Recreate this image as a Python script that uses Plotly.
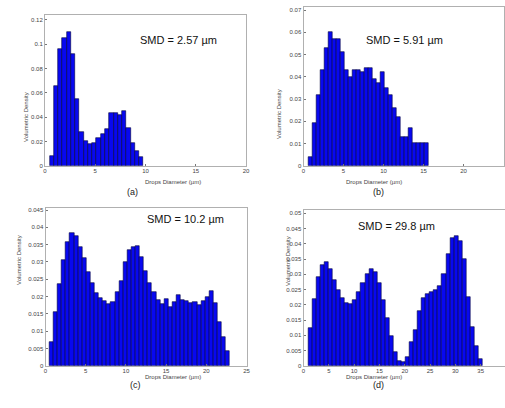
import plotly.graph_objects as go

# ---------------- data ----------------
# Panel (a): SMD = 2.57 um
a_bin_first_center = 0.66
a_bin_width = 0.425
a_density = [0.008, 0.066, 0.096, 0.105, 0.110, 0.092, 0.055, 0.028, 0.020, 0.018, 0.019,
             0.023, 0.026, 0.030, 0.043, 0.043, 0.042, 0.045, 0.031, 0.019, 0.012, 0.007]

# Panel (b): SMD = 5.91 um
b_bin_first_center = 0.85
b_bin_width = 0.5
b_density = [0.004, 0.019, 0.032, 0.043, 0.053, 0.060, 0.057, 0.057, 0.051, 0.043,
             0.040, 0.043, 0.043, 0.042, 0.044, 0.044, 0.039, 0.037, 0.042, 0.035,
             0.032, 0.026, 0.022, 0.013, 0.013, 0.017, 0.010, 0.010, 0.010, 0.010]

# Panel (c): SMD = 10.2 um
c_bin_first_center = 0.75
c_bin_width = 0.51
c_density = [0.0069, 0.0154, 0.0236, 0.0305, 0.0358, 0.0385, 0.0376, 0.0344, 0.0310, 0.0272,
             0.0238, 0.0209, 0.0197, 0.0187, 0.0177, 0.0183, 0.0212, 0.0246, 0.0300, 0.0334,
             0.0344, 0.0346, 0.0315, 0.0274, 0.0238, 0.0214, 0.0190, 0.0177, 0.0193, 0.0171,
             0.0183, 0.0204, 0.0190, 0.0187, 0.0180, 0.0183, 0.0175, 0.0187, 0.0200, 0.0216,
             0.0180, 0.0127, 0.0084, 0.0042]

# Panel (d): SMD = 29.8 um
d_bin_first_center = 1.35
d_bin_width = 0.8
d_density = [0.0125, 0.0219, 0.0292, 0.0330, 0.0339, 0.0317, 0.0281, 0.0248, 0.0221, 0.0205,
             0.0201, 0.0216, 0.0243, 0.0270, 0.0300, 0.0316, 0.0306, 0.0270, 0.0216, 0.0155,
             0.0098, 0.0046, 0.0015, 0.0012, 0.0030, 0.0078, 0.0118, 0.0180, 0.0222, 0.0234,
             0.0242, 0.0250, 0.0260, 0.0300, 0.0366, 0.0420, 0.0427, 0.0410, 0.0350, 0.0226,
             0.0128, 0.0066, 0.0022]

smd_labels = ["SMD = 2.57 µm", "SMD = 5.91 µm", "SMD = 10.2 µm", "SMD = 29.8 µm"]
panel_labels = ["(a)", "(b)", "(c)", "(d)"]
x_title = "Drops Diameter (µm)"
y_title = "Volumetric Density"

# ---------------- figure ----------------
W, H = 505, 408
FONT = "Liberation Sans, Arial, sans-serif"
BAR_FILL = "#0808f0"
BAR_EDGE = "#00003a"

panels = [
    dict(x0=a_bin_first_center, dx=a_bin_width, y=a_density,
         px=(45, 246), py=(15, 165.7), xr=[0, 20], xdt=5, yr=[0, 0.1241], ydt=0.02),
    dict(x0=b_bin_first_center, dx=b_bin_width, y=b_density,
         px=(303.5, 503.5), py=(7, 165.7), xr=[0, 25], xdt=5, yr=[0, 0.0714], ydt=0.01),
    dict(x0=c_bin_first_center, dx=c_bin_width, y=c_density,
         px=(45.5, 246.5), py=(208, 365.7), xr=[0, 25], xdt=5, yr=[0, 0.0456], ydt=0.005),
    dict(x0=d_bin_first_center, dx=d_bin_width, y=d_density,
         px=(303.5, 505), py=(210, 365.7), xr=[0, 39.8], xdt=5, yr=[0, 0.0511], ydt=0.005),
]

smd_pos = [(178, 32), (445, 32), (185, 219), (437, 226)]
plabel_pos = [(125, 192), (386, 192), (128, 392), (386, 392)]
xtitle_pos = [(143, 182), (404, 182), (143, 382), (404, 382)]
ytitle_pos = [(21, 90), (279, 87), (14, 287), (288, 288)]

fig = go.Figure()
layout = dict(width=W, height=H, margin=dict(l=0, r=0, t=0, b=0, autoexpand=False),
              paper_bgcolor="white", plot_bgcolor="white", showlegend=False,
              bargap=0, font=dict(family=FONT, size=6, color="#333"))
annotations = []

for i, p in enumerate(panels):
    n = "" if i == 0 else str(i + 1)
    fig.add_trace(go.Bar(x0=p["x0"], dx=p["dx"], y=p["y"],
                         xaxis="x" + n, yaxis="y" + n,
                         marker=dict(color=BAR_FILL, line=dict(color=BAR_EDGE, width=0.6))))
    axstyle = dict(showgrid=False, zeroline=False, showline=True, mirror=True,
                   linecolor="#b0b0b0", linewidth=1, ticks="inside", ticklen=2,
                   tickcolor="#777", automargin=False,
                   tickfont=dict(size=6, color="#444", family=FONT))
    layout["xaxis" + n] = dict(domain=[p["px"][0] / W, p["px"][1] / W], range=p["xr"],
                               dtick=p["xdt"], tick0=0, anchor="y" + n,
                               ticklabelstandoff=-1, **axstyle)
    layout["yaxis" + n] = dict(domain=[1 - p["py"][1] / H, 1 - p["py"][0] / H], range=p["yr"],
                               dtick=p["ydt"], tick0=0, anchor="x" + n, **axstyle)
    annotations.append(dict(text=smd_labels[i], x=smd_pos[i][0] / W, y=1 - smd_pos[i][1] / H,
                            xref="paper", yref="paper", showarrow=False,
                            font=dict(size=11, color="#111", family=FONT)))
    annotations.append(dict(text=panel_labels[i], x=plabel_pos[i][0] / W, y=1 - plabel_pos[i][1] / H,
                            xref="paper", yref="paper", showarrow=False,
                            font=dict(size=9, color="#222", family=FONT)))
    annotations.append(dict(text=x_title, x=xtitle_pos[i][0] / W, y=1 - xtitle_pos[i][1] / H,
                            xref="paper", yref="paper", showarrow=False,
                            font=dict(size=6, color="#444", family=FONT)))
    annotations.append(dict(text=y_title, x=ytitle_pos[i][0] / W, y=1 - ytitle_pos[i][1] / H,
                            xref="paper", yref="paper", showarrow=False, textangle=-90,
                            font=dict(size=6, color="#444", family=FONT)))

layout["annotations"] = annotations
fig.update_layout(**layout)
fig.write_html("out.html", config={"displayModeBar": False},
               post_script="document.body.style.margin='0';document.body.style.overflow='hidden';")
